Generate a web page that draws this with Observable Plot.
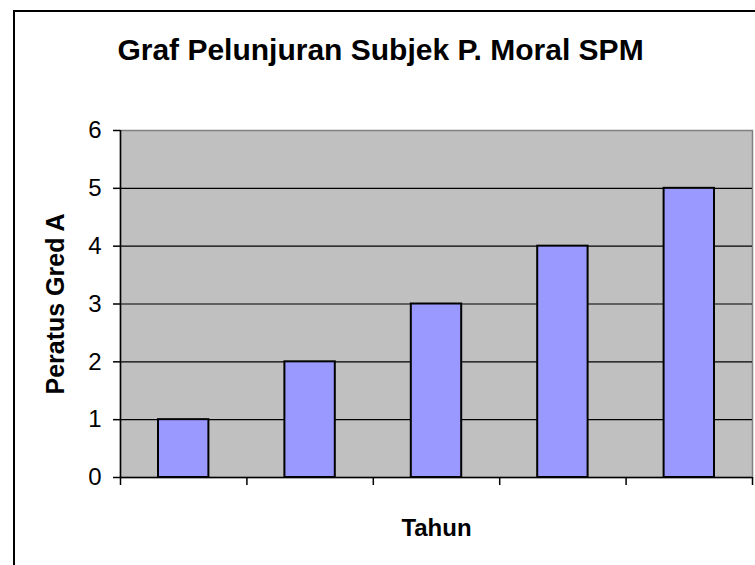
<!DOCTYPE html>
<html><head><meta charset="utf-8">
<script src="https://cdn.jsdelivr.net/npm/d3@7"></script>
<script src="https://cdn.jsdelivr.net/npm/@observablehq/plot@0.6"></script>
<style>
html,body{margin:0;padding:0;background:#fff;overflow:hidden;}
#wrap{position:relative;width:755px;height:565px;overflow:hidden;}
#border{position:absolute;left:13px;top:10px;width:800px;height:600px;border:2px solid #000;box-sizing:border-box;}
#chart{position:absolute;left:0;top:0;}
</style></head><body>
<div id="wrap"><div id="border"></div><div id="chart"></div></div>
<script>
const title = "Graf Pelunjuran Subjek P. Moral SPM";
const xLabel = "Tahun";
const yLabel = "Peratus Gred A";
const categories = ["1", "2", "3", "4", "5"];
const values = [1, 2, 3, 4, 5];
const yTicks = [0, 1, 2, 3, 4, 5, 6];

const data = categories.map((c, i) => ({i, c, v: values[i]}));
const n = categories.length;

const chart = Plot.plot({
  width: 755, height: 565,
  marginLeft: 120, marginRight: 3, marginTop: 130, marginBottom: 88,
  style: {fontFamily: 'Arial, "Liberation Sans", sans-serif', background: "transparent", color: "#000"},
  x: {type: "linear", domain: [0, n]},
  y: {domain: [0, 6]},
  marks: [
    Plot.frame({fill: "#C0C0C0", stroke: "#808080", strokeWidth: 1.5}),
    Plot.ruleY(yTicks.filter(t => t > 0 && t < 6), {stroke: "#000", strokeWidth: 1.2}),
    Plot.rectY(data, {x1: "i", x2: d => d.i + 1, y: "v", fill: "#9999FF", stroke: "#000", strokeWidth: 2, insetLeft: 38, insetRight: 38}),
    Plot.ruleX([0], {stroke: "#000", strokeWidth: 1.5}),
    Plot.ruleY([0], {stroke: "#000", strokeWidth: 1.5}),
    Plot.axisY({ticks: yTicks, tickFormat: d3.format("d"), tickSize: 7, tickPadding: 12, fontSize: 24, label: null, strokeWidth: 1.5}),
    Plot.axisX({ticks: d3.range(0, n + 1), tickSize: 8, tickFormat: () => "", label: null, strokeWidth: 1.5}),
    Plot.text([yLabel], {text: d => d, frameAnchor: "left", textAnchor: "middle", dx: -65, rotate: -90, fontSize: 25, fontWeight: "bold"}),
    Plot.text([xLabel], {text: d => d, frameAnchor: "bottom", dy: 58, fontSize: 24, fontWeight: "bold"}),
    Plot.text([title], {text: d => d, frameAnchor: "top", dx: -56, dy: -92, fontSize: 30, fontWeight: "bold"})
  ]
});
document.getElementById("chart").appendChild(chart);
</script>
</body></html>
